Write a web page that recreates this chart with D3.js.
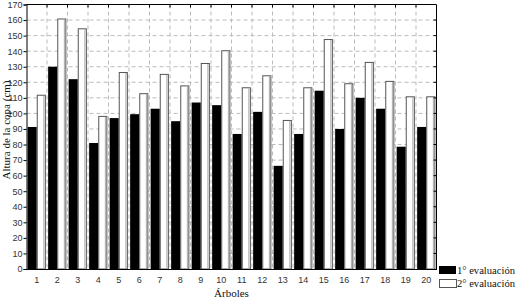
<!DOCTYPE html>
<html>
<head>
<meta charset="utf-8">
<script src="https://cdn.jsdelivr.net/npm/d3@7"></script>
<style>
  body { margin: 0; background: #fff; }
  .tick text { font-family: "Liberation Sans", Arial, sans-serif; font-size: 9px; fill: #333; }
  .title { font-family: "Liberation Serif", "Times New Roman", serif; font-size: 11px; fill: #111; }
</style>
</head>
<body>
<div id="chart-area"></div>
<script>
const arboles = ["1","2","3","4","5","6","7","8","9","10","11","12","13","14","15","16","17","18","19","20"];
const eval1 = [91.3, 130, 122, 81, 97, 99.5, 103, 95, 107, 105.3, 86.8, 101, 66.3, 86.8, 114.6, 90, 110, 103, 78.6, 91.3];
const eval2 = [112, 161, 154.7, 98.4, 126.6, 113, 125.4, 118, 132.4, 140.6, 116.8, 124.5, 95.8, 116.8, 147.8, 119.4, 133.1, 120.9, 111, 111];
const yTicks = [0,10,20,30,40,50,60,70,80,90,100,110,120,130,140,150,160,170];
const legendLabels = ["1° evaluación", "2° evaluación"];

const margin = { top: 4.5, right: 80.5, bottom: 31, left: 26.5 };
const width = 517 - margin.left - margin.right;
const height = 300 - margin.top - margin.bottom;

const svg = d3.select("#chart-area")
  .append("svg")
  .attr("width", 517)
  .attr("height", 300);

const g = svg.append("g")
  .attr("transform", `translate(${margin.left}, ${margin.top})`);

const x = d3.scaleBand().domain(arboles).range([0, width]).paddingInner(0).paddingOuter(0);
const x1 = d3.scaleBand().domain([0,1]).range([0, x.bandwidth()]).paddingOuter(0.125).paddingInner(0);
const y = d3.scaleLinear().domain([0,170]).range([height, 0]);

// grid
const gridColor = "#bbb";
g.append("g").selectAll("line")
  .data(yTicks.filter(d => d > 0 && d < 170))
  .join("line")
  .attr("x1", 0).attr("x2", width)
  .attr("y1", d => y(d)).attr("y2", d => y(d))
  .attr("stroke", gridColor).attr("stroke-dasharray", "4,3");

g.append("g").selectAll("line")
  .data(arboles.slice(1))
  .join("line")
  .attr("x1", d => x(d)).attr("x2", d => x(d))
  .attr("y1", 0).attr("y2", height)
  .attr("stroke", gridColor).attr("stroke-dasharray", "4,3");

// bars
const groups = g.selectAll(".grupo")
  .data(arboles)
  .join("g")
  .attr("class", "grupo")
  .attr("transform", d => `translate(${x(d)},0)`);

groups.append("rect")
  .attr("x", x1(0))
  .attr("y", (d,i) => y(eval1[i]))
  .attr("width", x1.bandwidth())
  .attr("height", (d,i) => height - y(eval1[i]))
  .attr("fill", "#000");

groups.append("rect")
  .attr("x", x1(1) + 0.5)
  .attr("y", (d,i) => y(eval2[i]) + 0.5)
  .attr("width", x1.bandwidth() - 1)
  .attr("height", (d,i) => height - y(eval2[i]) - 0.5)
  .attr("fill", "#fff")
  .attr("stroke", "#555");

groups.append("line")
  .attr("x1", x1(1) + x1.bandwidth() - 2).attr("x2", x1(1) + x1.bandwidth() - 2)
  .attr("y1", (d,i) => y(eval2[i]) + 1)
  .attr("y2", height)
  .attr("stroke", "#aaa");

// axes
const yAxis = d3.axisLeft(y).tickValues(yTicks).tickSize(3).tickPadding(1);
const xAxis = d3.axisBottom(x).tickSize(0).tickPadding(8);

g.append("g").call(yAxis).call(a => a.select(".domain").attr("stroke", "#000"));
g.append("g").attr("transform", `translate(0,${height})`).call(xAxis)
  .call(a => a.select(".domain").attr("stroke", "#000"));

// frame
g.append("line").attr("x1", 0).attr("x2", width).attr("y1", 0).attr("y2", 0).attr("stroke", "#000");
g.append("line").attr("x1", width).attr("x2", width).attr("y1", 0).attr("y2", height).attr("stroke", "#000");

g.append("g").selectAll("line")
  .data(arboles.slice(1))
  .join("line")
  .attr("x1", d => x(d)).attr("x2", d => x(d))
  .attr("y1", 0).attr("y2", 3)
  .attr("stroke", "#000");

g.append("g").selectAll("line")
  .data(yTicks.slice(1, -1))
  .join("line")
  .attr("x1", width - 3).attr("x2", width)
  .attr("y1", d => y(d)).attr("y2", d => y(d))
  .attr("stroke", "#000");

// titles
svg.append("text")
  .attr("class", "title")
  .attr("transform", "translate(9.5, 130) rotate(-90)")
  .attr("text-anchor", "middle")
  .text("Altura de la copa (cm)");

svg.append("text")
  .attr("class", "title")
  .attr("x", margin.left + width/2)
  .attr("y", 297)
  .attr("text-anchor", "middle")
  .text("Árboles");

// legend
const legend = svg.append("g").attr("transform", "translate(439,266)");
legendLabels.forEach((t, i) => {
  legend.append("rect")
    .attr("x", i === 0 ? 0 : 0.5)
    .attr("y", i * 13 + (i === 0 ? 0 : 0.5))
    .attr("width", 17)
    .attr("height", 8)
    .attr("fill", i === 0 ? "#000" : "#fff")
    .attr("stroke", i === 0 ? "none" : "#555");
  legend.append("text")
    .attr("class", "title")
    .attr("x", 18)
    .attr("y", i * 13 + 8)
    .attr("textLength", 58)
    .attr("lengthAdjust", "spacingAndGlyphs")
    .text(t);
});
</script>
</body>
</html>
